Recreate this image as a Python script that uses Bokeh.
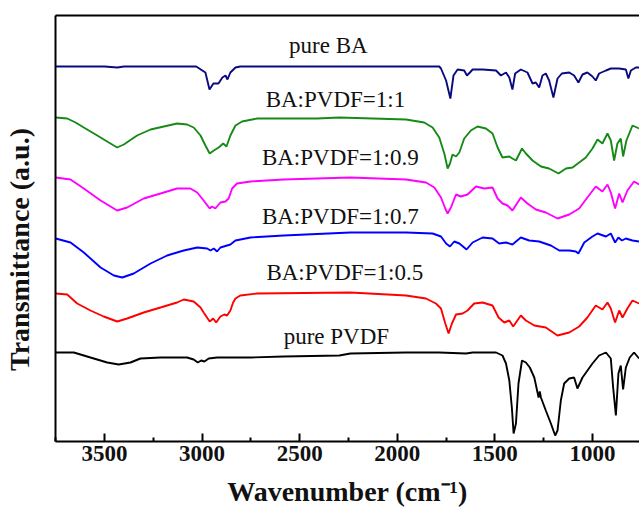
from bokeh.plotting import figure
from bokeh.models import Range1d, FixedTicker, LinearAxis, ColumnDataSource
from bokeh.core.properties import value
from bokeh.embed import file_html
from bokeh.resources import INLINE

# ---- data (wavenumber in cm^-1, transmittance in arbitrary offset units) ----
ba_wn = [3750, 3500, 3435, 3400, 3030, 2983, 2962, 2942, 2916, 2896, 2880, 2870, 2855, 2829, 2804,
         1785, 1776, 1750, 1728, 1712, 1691, 1657, 1643, 1628, 1614, 1563, 1494, 1469, 1443, 1426,
         1410, 1396, 1367, 1333, 1307, 1290, 1273, 1256, 1239, 1222, 1200, 1179, 1157, 1119, 1094,
         1072, 1051, 1026, 1000, 983, 966, 931, 906, 863, 829, 816, 803, 778, 761]
ba_t = [375, 375, 374, 375, 375, 369, 352, 358, 358, 364, 366, 362, 369, 374, 375,
        375, 373, 361, 343, 366, 372, 371, 366, 369, 372, 372, 371, 366, 369, 364,
        352, 368, 372, 369, 358, 359, 354, 366, 368, 361, 344, 363, 368, 369, 366,
        359, 367, 369, 365, 361, 368, 371, 373, 373, 372, 363, 371, 374, 374]

r11_wn = [3750, 3691, 3648, 3606, 3537, 3478, 3435, 3401, 3333, 3264, 3196, 3128, 3077, 3043, 3008,
          2983, 2961, 2940, 2915, 2892, 2875, 2855, 2829, 2795, 2718, 2582, 2411, 2297, 2126, 1955,
          1862, 1819, 1785, 1759, 1742, 1730, 1717, 1699, 1682, 1657, 1623, 1589, 1546, 1512, 1486,
          1461, 1426, 1410, 1392, 1361, 1341, 1307, 1264, 1222, 1174, 1136, 1102, 1068, 1034, 1000,
          974, 949, 923, 906, 889, 872, 855, 843, 826, 795, 761]
r11_t = [324, 323, 319, 314, 306, 299, 294, 297, 306, 312, 315, 318, 317, 314, 306,
         296, 288, 291, 294, 298, 295, 306, 316, 320, 323, 323, 323, 324, 323, 322,
         319, 314, 304, 288, 273, 278, 287, 285, 289, 303, 311, 315, 313, 308, 294,
         284, 285, 283, 281, 293, 288, 281, 275, 273, 268, 273, 274, 279, 284, 293,
         302, 298, 308, 301, 281, 298, 303, 285, 301, 316, 313]

r09_wn = [3750, 3674, 3606, 3520, 3435, 3384, 3299, 3213, 3128, 3060, 3025, 2992, 2961, 2949, 2932,
          2906, 2880, 2864, 2846, 2821, 2752, 2582, 2240, 1955, 1853, 1810, 1776, 1754, 1742, 1725,
          1699, 1674, 1640, 1597, 1554, 1512, 1486, 1461, 1435, 1410, 1367, 1333, 1290, 1239, 1179,
          1119, 1068, 1026, 983, 949, 923, 906, 884, 863, 846, 821, 787, 761]
r09_t = [264, 262, 253, 241, 231, 234, 243, 248, 253, 253, 249, 241, 233, 235, 233,
         239, 240, 243, 253, 258, 260, 262, 264, 262, 259, 254, 244, 233, 228, 234,
         247, 245, 247, 255, 253, 254, 243, 238, 236, 231, 244, 238, 232, 229, 223,
         227, 233, 244, 255, 250, 257, 249, 233, 248, 239, 251, 260, 257]

r07_wn = [3750, 3674, 3606, 3520, 3452, 3409, 3350, 3264, 3179, 3094, 3025, 2974, 2957, 2940, 2923,
          2906, 2855, 2829, 2752, 2582, 2240, 1955, 1819, 1776, 1750, 1730, 1708, 1682, 1645, 1614,
          1563, 1512, 1478, 1443, 1410, 1367, 1324, 1273, 1213, 1170, 1119, 1085, 1072, 1042, 1000,
          974, 931, 906, 884, 867, 849, 829, 795, 761]
r07_t = [203, 199, 189, 174, 166, 164, 168, 178, 186, 191, 194, 193, 191, 193, 190,
         194, 197, 201, 204, 206, 209, 209, 208, 205, 198, 195, 200, 198, 192, 199,
         204, 203, 198, 199, 197, 204, 201, 200, 196, 191, 191, 190, 188, 199, 205,
         208, 205, 208, 199, 204, 201, 203, 201, 200]

r05_wn = [3750, 3691, 3640, 3572, 3504, 3435, 3384, 3299, 3213, 3128, 3094, 3043, 3008, 2992, 2961,
          2943, 2928, 2906, 2886, 2872, 2855, 2841, 2829, 2804, 2718, 2240, 1955, 1853, 1802, 1776,
          1754, 1737, 1720, 1699, 1665, 1640, 1606, 1563, 1512, 1481, 1452, 1426, 1406, 1367, 1341,
          1298, 1239, 1179, 1119, 1068, 1026, 983, 949, 923, 906, 884, 863, 846, 821, 795, 761]
r05_t = [148, 147, 138, 131, 125, 120, 123, 129, 134, 139, 142, 140, 134, 129, 120,
         123, 119, 125, 127, 126, 131, 139, 143, 146, 148, 149, 146, 143, 138, 133,
         118, 108, 118, 127, 128, 131, 138, 139, 136, 124, 119, 121, 115, 126, 121,
         116, 114, 106, 109, 115, 124, 136, 132, 139, 133, 119, 131, 124, 133, 141, 138]

pvdf_wn = [3750, 3657, 3572, 3486, 3427, 3367, 3316, 3213, 3077, 3043, 3022, 3005, 2988, 2966, 2923,
           2752, 2582, 2297, 2240, 1955, 1785, 1648, 1614, 1494, 1461, 1443, 1426, 1413, 1404, 1392,
           1379, 1361, 1341, 1321, 1298, 1276, 1270, 1264, 1239, 1213, 1191, 1179, 1162, 1145, 1119,
           1094, 1077, 1051, 1000, 966, 931, 906, 894, 880, 867, 855, 843, 829, 809, 787, 761]
pvdf_t = [89, 89, 84, 79, 77, 79, 83, 84, 84, 82, 79, 81, 80, 83, 84,
          84, 85, 86, 88, 89, 89, 88, 89, 89, 86, 78, 61, 34, 8, 18,
          58, 81, 79, 74, 64, 44, 50, 44, 31, 18, 6, 11, 41, 58, 63,
          64, 53, 64, 78, 86, 89, 83, 54, 26, 68, 76, 52, 74, 84, 89, 83]

series_names = ["pure BA", "BA:PVDF=1:1", "BA:PVDF=1:0.9", "BA:PVDF=1:0.7", "BA:PVDF=1:0.5", "pure PVDF"]
series_colors = ["#0a0a80", "#168a16", "#ff00ff", "#0000ff", "#ff0000", "#000000"]
label_wn = [2353, 2317, 2292, 2292, 2269, 2312]
label_t = [396, 342, 284, 225, 169, 105]

x_ticks = [3500, 3000, 2500, 2000, 1500, 1000]
x_minor = [3750, 3250, 2750, 2250, 1750, 1250, 750]
NB = "\u00a0"
x_title = "Wavenumber (cm\u207b\u00b9)"
y_title = "Transmittance (a.u.)" + NB * 6

SERIF = "Liberation Serif"

p = figure(width=639, height=511, output_backend="svg", toolbar_location=None,
           x_range=Range1d(3751, 759), y_range=Range1d(0, 426),
           min_border_left=55, min_border_right=0, min_border_top=15, min_border_bottom=70)
p.outline_line_color = None
p.grid.visible = False
p.background_fill_color = "white"
p.border_fill_color = "white"

xs = [ba_wn, r11_wn, r09_wn, r07_wn, r05_wn, pvdf_wn]
ys = [ba_t, r11_t, r09_t, r07_t, r05_t, pvdf_t]
for xw, yt, c in zip(xs, ys, series_colors):
    p.line(xw, yt, line_color=c, line_width=1.9)

lab_src = ColumnDataSource(dict(x=label_wn, y=label_t, text=series_names))
p.text(x="x", y="y", text="text", source=lab_src, text_font=value(SERIF),
       text_font_size="23px", text_align="center", text_baseline="alphabetic",
       text_color="#111111")

xa = p.xaxis[0]
xa.ticker = FixedTicker(ticks=x_ticks, minor_ticks=x_minor)
xa.major_tick_in = 8
xa.major_tick_out = 0
xa.minor_tick_in = 4
xa.minor_tick_out = 0
xa.axis_line_width = 2
xa.major_tick_line_width = 2
xa.minor_tick_line_width = 2
xa.major_label_text_font = SERIF
xa.major_label_text_font_style = "bold"
xa.major_label_text_font_size = "23px"
xa.major_label_text_color = "#111111"
xa.major_label_standoff = 4
xa.axis_label = x_title
xa.axis_label_text_font = SERIF
xa.axis_label_text_font_style = "bold"
xa.axis_label_text_font_size = "28px"
xa.axis_label_text_color = "#111111"
xa.axis_label_standoff = 12

ya = p.yaxis[0]
ya.ticker = FixedTicker(ticks=[])
ya.axis_line_width = 2
ya.major_tick_line_color = None
ya.minor_tick_line_color = None
ya.axis_label = y_title
ya.axis_label_text_font = SERIF
ya.axis_label_text_font_style = "bold"
ya.axis_label_text_font_size = "28px"
ya.axis_label_text_color = "#111111"
ya.axis_label_standoff = 21

top = LinearAxis(ticker=FixedTicker(ticks=[]), axis_line_width=2,
                 major_tick_line_color=None, minor_tick_line_color=None)
p.add_layout(top, "above")

open("out.html", "w").write(file_html(p, INLINE))
